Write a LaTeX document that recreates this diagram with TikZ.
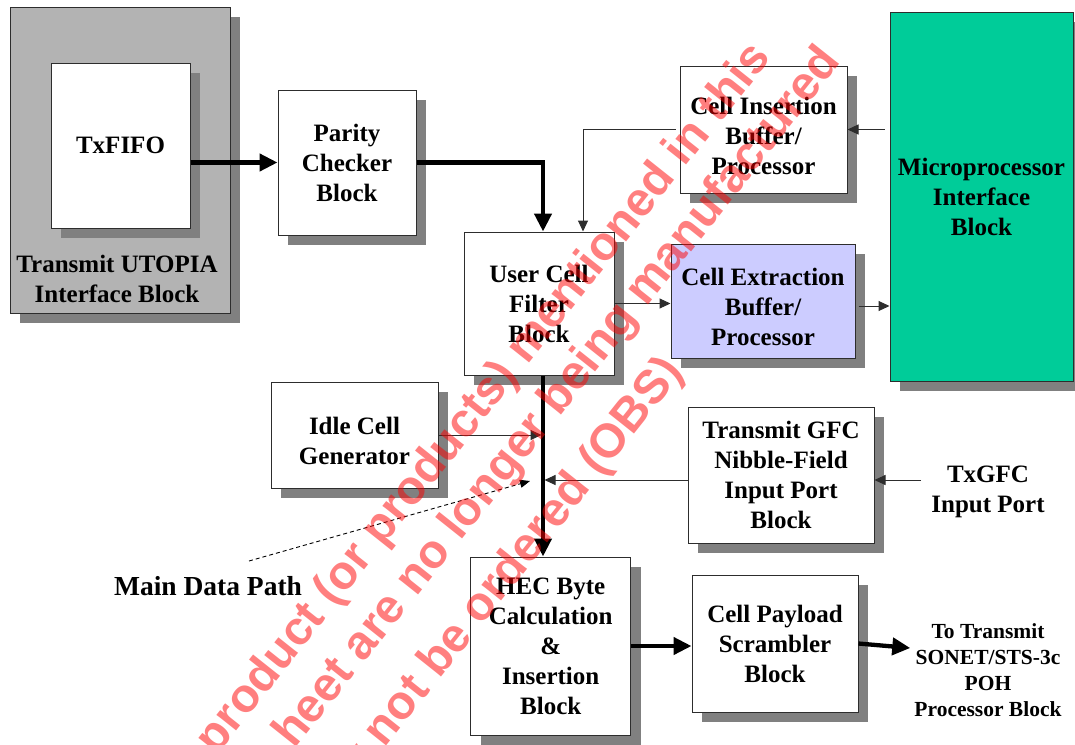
\documentclass[tikz,border=0pt]{standalone}
\usepackage{fontspec}
\setmainfont{Liberation Serif}
\newfontfamily\wmfont{Liberation Sans}
\usetikzlibrary{arrows.meta,shadows,calc}
\definecolor{shadowgray}{RGB}{128,128,128}
\definecolor{utopiagray}{RGB}{179,179,179}
\definecolor{microgreen}{RGB}{0,204,153}
\definecolor{extblue}{RGB}{204,204,255}
\definecolor{edge}{RGB}{45,45,45}
\newcommand\btext{\fontsize{25}{30}\selectfont\bfseries}
\tikzset{
  blk/.style={draw=edge, line width=1pt, fill=white, inner sep=0pt, align=center, font=\btext,
    drop shadow={shadow xshift=10pt, shadow yshift=-10pt, fill=shadowgray, opacity=1}},
  lbl/.style={font=\btext, align=center, inner sep=0pt},
  thickarrow/.style={line width=4.3pt, -{Triangle[length=18pt,width=17pt]}},
  thinarrow/.style={draw=edge, line width=1pt, -{Triangle[length=11pt,width=10pt]}},
  dashline/.style={draw=black, line width=0.9pt, dash pattern=on 4pt off 3pt, -{Triangle[length=10pt,width=8pt]}},
  wm/.style={rotate=51.5, inner sep=0pt, anchor=base east, font=\wmfont\fontsize{47.5}{48}\selectfont\bfseries, text=red, text opacity=0.5}
}
\begin{document}
\begin{tikzpicture}[x=1pt,y=-1pt]
\useasboundingbox (0,0) rectangle (1075,744);
% blocks
\node[blk, fill=utopiagray, minimum width=220pt, minimum height=306pt] (utopia) at (120,160) {};
\node[blk, minimum width=139pt, minimum height=165pt] (txfifo) at (120.5,145.5) {TxFIFO};
\node[lbl] (utopiatxt) at (117,279) {Transmit UTOPIA\\Interface Block};
\node[blk, minimum width=138pt, minimum height=145pt] (parity) at (347,162.5) {Parity\\Checker\\Block};
\node[blk, minimum width=150pt, minimum height=143pt] (usercell) at (539,303.5) {User Cell\\Filter\\Block};
\node[blk, minimum width=167pt, minimum height=127pt,
  label={[lbl, yshift=-6pt]center:{Cell Insertion\\Buffer/\\Processor}}] (cellins) at (763.5,129.5) {};
\node[blk, fill=microgreen, minimum width=183pt, minimum height=369pt] (micro) at (981.5,196.5) {Microprocessor\\Interface\\Block};
\node[blk, fill=extblue, minimum width=184pt, minimum height=114pt,
  label={[lbl, yshift=-6pt]center:{Cell Extraction\\Buffer/\\Processor}}] (cellext) at (763,301) {};
\node[blk, minimum width=167pt, minimum height=106pt,
  label={[lbl, yshift=-6pt]center:{Idle Cell\\Generator}}] (idle) at (354.5,435) {};
\node[blk, minimum width=186pt, minimum height=136pt] (gfc) at (781,475) {Transmit GFC\\Nibble-Field\\Input Port\\Block};
\node[lbl] (txgfc) at (988,492) {TxGFC\\Input Port};
\node[blk, minimum width=160pt, minimum height=178pt] (hec) at (550.7,646) {HEC Byte\\Calculation\\\&\\Insertion\\Block};
\node[blk, minimum width=166pt, minimum height=137pt] (cp) at (775,643.5) {Cell Payload\\Scrambler\\Block};
\node[lbl, font=\fontsize{21.5}{26}\selectfont\bfseries] (out) at (988,670) {To Transmit\\SONET/STS-3c\\POH\\Processor Block};
\node[lbl, font=\fontsize{27.5}{30}\selectfont\bfseries] (mdp) at (208,586) {Main Data Path};
% connectors
\coordinate (mp) at ($(usercell.south)+(4,0)$);
\draw[thickarrow] (txfifo.east |- parity.west) -- (parity.west);
\draw[thickarrow] (parity.east) -| ($(usercell.north)+(4,0)$);
\draw[thinarrow] ($(cellins.west)+(-4,0)$) -| ($(usercell.north)+(44,0)$);
\draw[thinarrow] ($(micro.west |- cellins.east)+(-5,0)$) -- (cellins.east);
\draw[thinarrow] (usercell.east) -- (usercell.east -| cellext.west);
\draw[thinarrow] ($(cellext.east)+(3,5)$) coordinate (ce) -- (ce -| micro.west);
\draw[thickarrow] (mp) -- (mp |- hec.north);
\draw[thinarrow, shorten >=1.5pt] (idle.east) -- (idle.east -| mp);
\draw[thinarrow, shorten >=1.5pt] ($(gfc.west)+(0,5)$) coordinate (gw) -- (gw -| mp);
\draw[thinarrow] ($(txgfc.west |- gfc.east)+(-10,5)$) -- ($(gfc.east)+(0,5)$);
\draw[thickarrow] (hec.east) -- (hec.east -| cp.west);
\draw[thickarrow] (cp.east) -- ($(out.west)+(-4,-22)$);
\coordinate (dstart) at (249,561);
\coordinate (dend) at (530,481);
\draw[dashline] (dstart) -- (dend);
% watermark
\node[wm] (wm1) at (772,58) {product (or products) mentioned in this};
\node[wm] (wm2) at (842,62) {heet are no longer being manufactured};
\node[wm] (wm3) at (684,372) {y not be ordered (OBS)};
\end{tikzpicture}
\end{document}
